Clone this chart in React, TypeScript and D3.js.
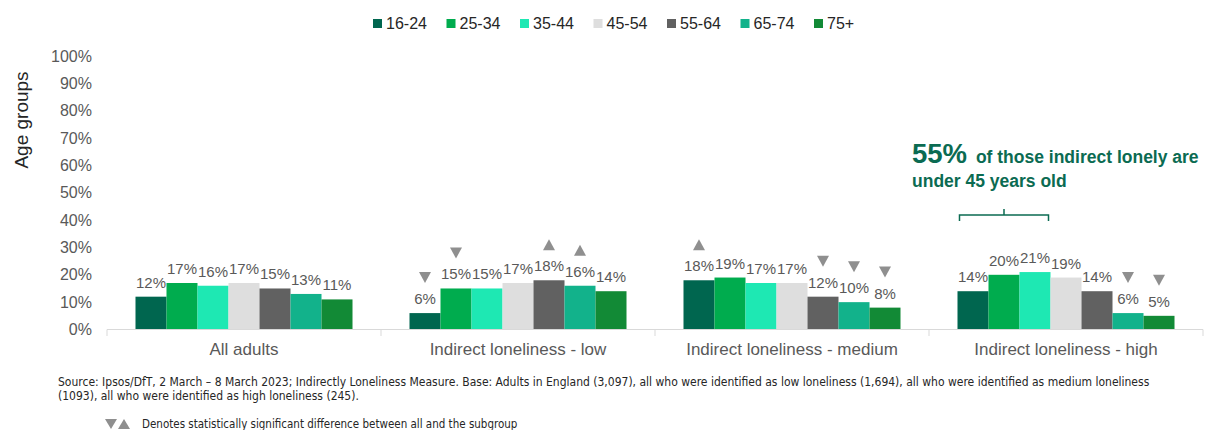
import React from "react";
import * as d3 from "d3";

const groups = [
  "All adults",
  "Indirect loneliness - low",
  "Indirect loneliness - medium",
  "Indirect loneliness - high",
];
const ageGroups = ["16-24", "25-34", "35-44", "45-54", "55-64", "65-74", "75+"];
const ageColors = ["#00664F", "#00AC4E", "#1EE8B3", "#DEDEDE", "#616161", "#12B28B", "#128A36"];

const allAdults = [12, 17, 16, 17, 15, 13, 11];
const lowLoneliness = [6, 15, 15, 17, 18, 16, 14];
const mediumLoneliness = [18, 19, 17, 17, 12, 10, 8];
const highLoneliness = [14, 20, 21, 19, 14, 6, 5];

const allMarkers = ["", "", "", "", "", "", ""];
const lowMarkers = ["down", "down", "", "", "up", "up", ""];
const mediumMarkers = ["up", "", "", "", "down", "down", "down"];
const highMarkers = ["", "", "", "", "", "down", "down"];

const yTicks = [0, 10, 20, 30, 40, 50, 60, 70, 80, 90, 100];

const annotationBig = "55%";
const annotationLine1 = " of those indirect lonely are";
const annotationLine2 = "under 45 years old";
const bracketGroup = 3;
const bracketFrom = 0;
const bracketTo = 2;

const sourceLine1 =
  "Source: Ipsos/DfT, 2 March \u2013 8 March 2023; Indirectly Loneliness Measure. Base: Adults in England (3,097), all who were identified as low loneliness (1,694), all who were identified as medium loneliness";
const sourceLine2 = "(1093), all who were identified as high loneliness (245).";
const markerNote = "Denotes statistically significant difference between all and the subgroup";

const seriesByGroup = [allAdults, lowLoneliness, mediumLoneliness, highLoneliness];
const markersByGroup = [allMarkers, lowMarkers, mediumMarkers, highMarkers];

const W = 1205;
const H = 430;
const FONT = "Arial, 'Liberation Sans', sans-serif";
const NARROW = "'Liberation Sans Narrow', 'Arial Narrow', 'DejaVu Sans Condensed', sans-serif";
const GREY_TXT = "#595959";
const MARK = "#8f8f8f";
const ANNO = "#0b6b52";

function tri(cx: number, bottom: number, dir: string, w = 12, h = 11) {
  if (dir === "down") {
    return `M${cx - w / 2},${bottom - h}L${cx + w / 2},${bottom - h}L${cx},${bottom}Z`;
  }
  return `M${cx - w / 2},${bottom}L${cx + w / 2},${bottom}L${cx},${bottom - h}Z`;
}

export default function App() {
  const x0 = d3.scaleBand<string>().domain(groups).range([107, 1203]).paddingInner(0.208).paddingOuter(0.104);
  const x1 = d3.scaleBand<string>().domain(ageGroups).range([0, x0.bandwidth()]).padding(0);
  const y = d3.scaleLinear().domain([0, 100]).range([329.5, 56]);
  const step = x0.step();
  const boundaries = groups.map((g) => (x0(g) as number) - (step - x0.bandwidth()) / 2);
  boundaries.push(boundaries[boundaries.length - 1] + step);

  const bx0 = (x0(groups[bracketGroup]) as number) + (x1(ageGroups[bracketFrom]) as number) + 2;
  const bx1 = (x0(groups[bracketGroup]) as number) + (x1(ageGroups[bracketTo]) as number) + x1.bandwidth() - 2;

  const legendX = d3.scaleLinear().domain([0, 1]).range([373, 446.5]);

  return (
    <svg width={W} height={H} style={{ position: "absolute", left: 0, top: 0, background: "#fff" }} fontFamily={FONT}>
      {/* legend */}
      {ageGroups.map((a, i) => (
        <g key={a} transform={`translate(${legendX(i)},0)`}>
          <rect x={0} y={19} width={9} height={9} fill={ageColors[i]} />
          <text x={13} y={28.5} fontSize={16} fill="#262626">{a}</text>
        </g>
      ))}

      {/* y axis label */}
      <text transform="translate(28,120) rotate(-90)" textAnchor="middle" fontSize={19} fill="#262626">
        Age groups
      </text>

      {/* y ticks */}
      {yTicks.map((t) => (
        <text key={t} x={92} y={y(t)} dy="0.35em" textAnchor="end" fontSize={16} fill={GREY_TXT}>
          {t}%
        </text>
      ))}

      {/* bars */}
      {groups.map((g, gi) => (
        <g key={g} transform={`translate(${x0(g)},0)`}>
          {seriesByGroup[gi].map((v, i) => {
            const bx = x1(ageGroups[i]) as number;
            const cx = bx + x1.bandwidth() / 2;
            const m = markersByGroup[gi][i];
            return (
              <g key={i}>
                <rect x={bx} y={y(v)} width={x1.bandwidth()} height={y(0) - y(v)} fill={ageColors[i]} />
                <text x={cx} y={y(v) - 9} textAnchor="middle" fontSize={15} fill={GREY_TXT}>
                  {v}%
                </text>
                {m && <path d={tri(cx, y(v) - 30, m)} fill={MARK} />}
              </g>
            );
          })}
        </g>
      ))}

      {/* x axis */}
      <line x1={boundaries[0]} x2={boundaries[boundaries.length - 1]} y1={329.5} y2={329.5} stroke="#d9d9d9" strokeWidth={1} />
      {boundaries.map((b, i) => (
        <line key={i} x1={b} x2={b} y1={329.5} y2={336} stroke="#d9d9d9" strokeWidth={1} />
      ))}
      {groups.map((g) => (
        <text key={g} x={(x0(g) as number) + x0.bandwidth() / 2} y={355} textAnchor="middle" fontSize={17} fill={GREY_TXT}>
          {g}
        </text>
      ))}

      {/* annotation */}
      <text x={912} y={163} fill={ANNO} fontWeight="bold">
        <tspan fontSize={27.5}>{annotationBig}</tspan>
        <tspan fontSize={17.5} dx={4}>{annotationLine1}</tspan>
      </text>
      <text x={912} y={187} fill={ANNO} fontWeight="bold" fontSize={17.5}>
        {annotationLine2}
      </text>
      <path
        d={`M${bx0},221V215H${bx1}V221M${(bx0 + bx1) / 2},215V209`}
        fill="none"
        stroke={ANNO}
        strokeWidth={1.5}
      />

      {/* footnotes */}
      <text x={58} y={386} fontSize={12} fontFamily={NARROW} fill="#262626">{sourceLine1}</text>
      <text x={58} y={400} fontSize={12} fontFamily={NARROW} fill="#262626">{sourceLine2}</text>
      <path d={tri(111, 429, "down", 12, 10)} fill={MARK} />
      <path d={tri(124, 429, "up", 12, 10)} fill={MARK} />
      <text x={142} y={428} fontSize={11.5} fontFamily={NARROW} fill="#262626">{markerNote}</text>
    </svg>
  );
}
